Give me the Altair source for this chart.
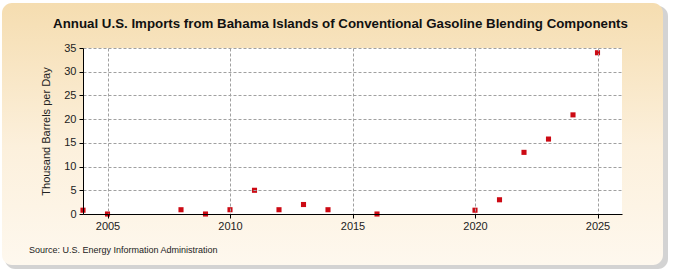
import altair as alt
import pandas as pd

years = [2004, 2005, 2008, 2009, 2010, 2011, 2012, 2013, 2014, 2016, 2020, 2021, 2022, 2023, 2024, 2025]
values = [0.8, 0.0, 0.9, 0.0, 0.9, 5.0, 0.9, 2.0, 0.9, 0.0, 0.8, 3.0, 13.0, 15.8, 20.9, 34.0]
x_ticks = [2005, 2010, 2015, 2020, 2025]
y_ticks = [0, 5, 10, 15, 20, 25, 30, 35]

title_text = "Annual U.S. Imports from Bahama Islands of Conventional Gasoline Blending Components"
source_text = "Source: U.S. Energy Information Administration"

W, H = 539, 166
FONT = "Liberation Sans"

df = pd.DataFrame({"year": years, "value": values})
one = pd.DataFrame({"a": [0]})

shadow = alt.Chart(one).mark_rect(color="#a8a8a8", opacity=0.5, cornerRadius=10).encode(
    x=alt.value(-78), x2=alt.value(585), y=alt.value(-42), y2=alt.value(221)
)
panel = alt.Chart(one).mark_rect(
    cornerRadius=10,
    color=alt.Gradient(
        gradient="linear",
        stops=[alt.GradientStop(color="#F5DDB0", offset=0),
               alt.GradientStop(color="#FCF0DC", offset=0.55),
               alt.GradientStop(color="#FEF8EE", offset=1)],
        x1=0, x2=0, y1=0, y2=1,
    ),
).encode(x=alt.value(-81), x2=alt.value(580), y=alt.value(-45), y2=alt.value(217))
plotbg = alt.Chart(one).mark_rect(color="white").encode(
    x=alt.value(0), x2=alt.value(W), y=alt.value(0), y2=alt.value(H)
)

points = alt.Chart(df).mark_square(size=26, color="#CC0A14", opacity=1).encode(
    x=alt.X("year:Q", scale=alt.Scale(domain=[2004, 2026], nice=False, zero=False),
            axis=alt.Axis(values=x_ticks, format="d", title=None, grid=True,
                          gridDash=[3, 2], gridColor="#A0A0A0", labelPadding=2,
                          tickSize=4, zindex=1)),
    y=alt.Y("value:Q", scale=alt.Scale(domain=[0, 35], nice=False),
            axis=alt.Axis(values=y_ticks, title="Thousand Barrels per Day", grid=True,
                          gridDash=[3, 2], gridColor="#A0A0A0", tickSize=4,
                          labelPadding=3, titlePadding=12, zindex=1)),
)

title = alt.Chart(one).mark_text(
    text=title_text, align="center", baseline="alphabetic", fontSize=13.3, font=FONT,
    fontWeight="bold", color="#111111"
).encode(x=alt.value(W / 2 - 12), y=alt.value(-20))

source = alt.Chart(one).mark_text(
    text=source_text, align="left", baseline="alphabetic", fontSize=9, font=FONT, color="#222222"
).encode(x=alt.value(-54), y=alt.value(205))

chart = alt.layer(shadow, panel, plotbg, points, title, source).properties(
    width=W, height=H,
    padding={"left": 83, "top": 48, "right": 53, "bottom": 61},
    autosize=alt.AutoSizeParams(type="none"),
).configure(background="white").configure_view(stroke=None).configure_axis(
    labelFont=FONT, labelFontSize=11, labelColor="#222222",
    titleFont=FONT, titleFontSize=11, titleFontWeight="normal", titleColor="#222222",
    domainColor="#000000", tickColor="#000000", domainWidth=1,
)

chart.save("out.html", embed_options={"renderer": "svg", "actions": False})
